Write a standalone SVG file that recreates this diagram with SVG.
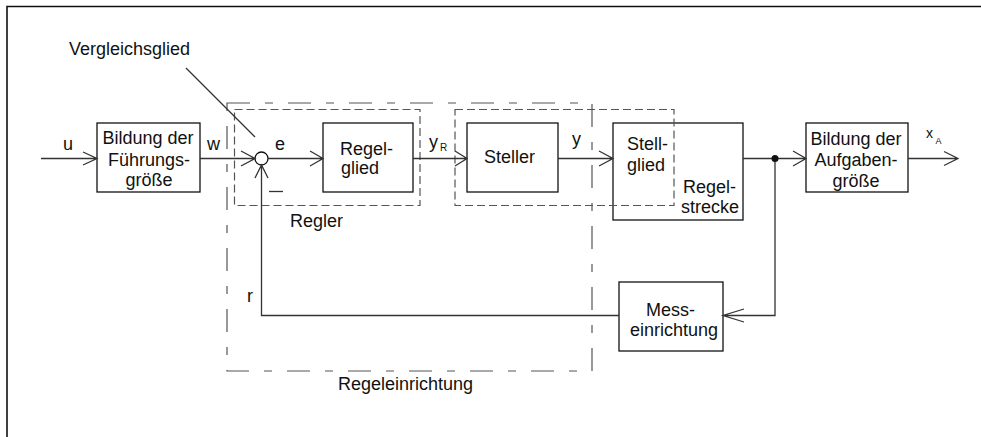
<svg xmlns="http://www.w3.org/2000/svg" width="981" height="437" viewBox="0 0 981 437">
<style>
text{font-family:"Liberation Sans",Arial,sans-serif;font-size:18px;fill:#111}
.box{fill:none;stroke:#111;stroke-width:1.3}
.ln{fill:none;stroke:#333;stroke-width:1.3}
.dash{fill:none;stroke:#555;stroke-width:1.2;stroke-dasharray:8 4}
.dashdot{fill:none;stroke:#555;stroke-width:1.2;stroke-dasharray:23 15 8 15}
.mid{text-anchor:middle}
</style>
<rect width="981" height="437" fill="#fff"/>
<path d="M7,437 V6.5 H981" fill="none" stroke="#111" stroke-width="1.6"/>

<g id="fuehrung">
<rect class="box" x="97" y="123" width="103" height="69"/>
<text class="mid" x="148" y="144">Bildung der</text>
<text class="mid" x="149" y="165.5">Führungs-</text>
<text class="mid" x="149" y="186">größe</text>
</g>
<g id="vergleich">
<circle cx="261.5" cy="158.5" r="6.5" fill="#fff" stroke="#111" stroke-width="1.3"/>
<text x="69" y="55">Vergleichsglied</text>
</g>
<g id="regelglied">
<rect class="box" x="323" y="123" width="90" height="69"/>
<text x="340" y="155">Regel-</text>
<text x="341" y="174">glied</text>
</g>
<g id="steller">
<rect class="box" x="467" y="123" width="91" height="69"/>
<text x="484" y="163">Steller</text>
</g>
<g id="regelstrecke">
<rect class="box" x="613" y="123" width="130" height="97"/>
<text x="627" y="150">Stell-</text>
<text x="627" y="171">glied</text>
<text x="683" y="193">Regel-</text>
<text x="681" y="213">strecke</text>
</g>
<g id="aufgabe">
<rect class="box" x="806" y="123" width="102" height="69"/>
<text class="mid" x="856" y="144.5">Bildung der</text>
<text class="mid" x="856" y="165.5">Aufgaben-</text>
<text class="mid" x="856" y="186.5">größe</text>
</g>
<g id="mess">
<rect class="box" x="619" y="282" width="104" height="69"/>
<text x="646" y="316">Mess-</text>
<text x="630" y="336">einrichtung</text>
</g>

<g id="gruppen">
<rect class="dash" x="234.5" y="109.5" width="185.5" height="96"/>
<rect class="dash" x="455" y="109.5" width="219" height="96"/>
<rect class="dashdot" x="227" y="103" width="365" height="268"/>
<text x="290" y="227">Regler</text>
<text x="338" y="390">Regeleinrichtung</text>
</g>

<g id="connectors">
<path class="ln" d="M41,158.5 H97 M83,152 L97,158.5 L83,165"/>
<path class="ln" d="M200,158.5 H255 M241,151 L255,158.5 L241,166"/>
<path class="ln" d="M268,158.5 H323 M310,151 L323,158.5 L310,166"/>
<path class="ln" d="M413,158.5 H467 M455,151 L467,158.5 L455,166"/>
<path class="ln" d="M558,158.5 H613 M599,151 L613,158.5 L599,166"/>
<path class="ln" d="M743,158.5 H806 M793,151 L806,158.5 L793,166"/>
<path class="ln" d="M908,158.5 H958 M944,151.5 L958,158.5 L944,165.5"/>
<path class="ln" d="M775,158.5 V315.5 H723 M744,309 L723,315.5 L744,322"/>
<path class="ln" d="M619,315.5 H261.5 V165 M255,178 L261.5,165 L268,178"/>
<path class="ln" d="M269,191.5 H283"/>
<path class="ln" d="M186,68 L255,137"/>
<circle cx="775" cy="158.5" r="3.5" fill="#111"/>
<text x="63" y="150">u</text>
<text x="207" y="150">w</text>
<text x="275" y="150">e</text>
<text x="429" y="148">y</text>
<text x="440" y="151" style="font-size:10px">R</text>
<text x="572" y="145">y</text>
<text x="926" y="138" style="font-size:14px">x</text>
<text x="935.5" y="143.5" style="font-size:9px">A</text>
<text x="247" y="302">r</text>
</g>
</svg>
